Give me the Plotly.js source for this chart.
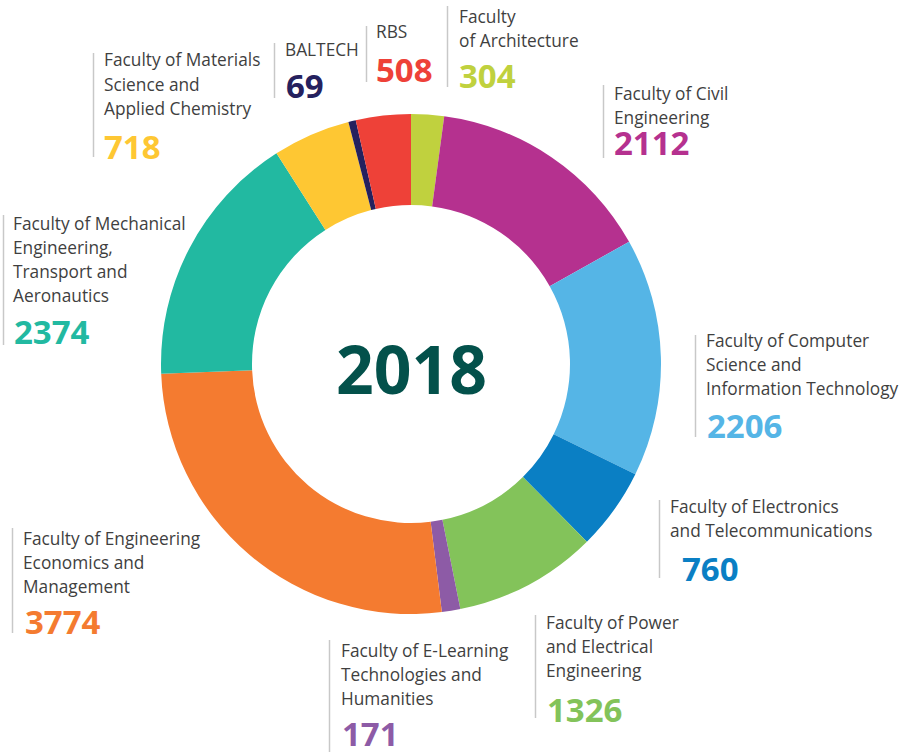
<!DOCTYPE html>
<html><head><meta charset="utf-8">
<script src="https://cdn.plot.ly/plotly-3.0.1.min.js"></script>
<style>html,body{margin:0;padding:0;background:#fff;overflow:hidden}</style>
</head><body><div id="chart" style="width:905px;height:752px"></div>
<script>
// ---- data ----
const year = "2018";
const faculties = [
  "Faculty of Architecture",
  "Faculty of Civil Engineering",
  "Faculty of Computer Science and Information Technology",
  "Faculty of Electronics and Telecommunications",
  "Faculty of Power and Electrical Engineering",
  "Faculty of E-Learning Technologies and Humanities",
  "Faculty of Engineering Economics and Management",
  "Faculty of Mechanical Engineering, Transport and Aeronautics",
  "Faculty of Materials Science and Applied Chemistry",
  "BALTECH",
  "RBS"
];
const students = [304, 2112, 2206, 760, 1326, 171, 3774, 2374, 718, 69, 508];
const sliceColors = ["#c0d13e","#b5318f","#55b5e6","#0a7fc4","#83c35a","#8d5ba6","#f47b30","#22b9a1","#fec733","#25215e","#ee4138"];
const labelLines = [
  ["Faculty", "of Architecture"],
  ["Faculty of Civil", "Engineering"],
  ["Faculty of Computer", "Science and", "Information Technology"],
  ["Faculty of Electronics", "and Telecommunications"],
  ["Faculty of Power", "and Electrical", "Engineering"],
  ["Faculty of E-Learning", "Technologies and", "Humanities"],
  ["Faculty of Engineering", "Economics and", "Management"],
  ["Faculty of Mechanical", "Engineering,", "Transport and", "Aeronautics"],
  ["Faculty of Materials", "Science and", "Applied Chemistry"],
  ["BALTECH"],
  ["RBS"]
];

// ---- layout placement (pixels) ----
const W = 905, H = 752;
const px = x => x / W;
const py = y => 1 - y / H;
const place = [
  {lx:447.5, l0:6,   l1:87,  tx:458, ty:16,    nx:458, ny:75},
  {lx:603.5, l0:85,  l1:158, tx:613, ty:93,    nx:613, ny:142},
  {lx:695.5, l0:335, l1:437, tx:705, ty:340,   nx:706, ny:425},
  {lx:659.5, l0:500, l1:578, tx:669, ty:506,   nx:681, ny:568},
  {lx:535.5, l0:615, l1:718, tx:545, ty:622,   nx:546, ny:709},
  {lx:329.5, l0:640, l1:752, tx:340, ty:650,   nx:341, ny:733},
  {lx:12.5,  l0:528, l1:633, tx:22,  ty:538,   nx:24,  ny:621},
  {lx:3.5,   l0:215, l1:345, tx:12,  ty:223,   nx:13,  ny:331},
  {lx:93.5,  l0:53,  l1:157, tx:103, ty:60,    nx:103, ny:146},
  {lx:274.5, l0:43,  l1:98,  tx:284, ty:50,    nx:285, ny:85.5},
  {lx:366.5, l0:26,  l1:82,  tx:375, ty:32,    nx:375, ny:69.5}
];
const lineStep = 24.3;
const cx = 411, cy = 364, R = 250;

const annotations = [];
const shapes = [];
faculties.forEach((f, i) => {
  const p = place[i];
  labelLines[i].forEach((t, k) => {
    annotations.push({
      xref:'paper', yref:'paper', x:px(p.tx), y:py(p.ty + k*lineStep),
      xanchor:'left', yanchor:'middle', showarrow:false, borderpad:0,
      text:t, font:{family:'"Open Sans", sans-serif', size:17.3, color:'#3f3f3f'}
    });
  });
  annotations.push({
    xref:'paper', yref:'paper', x:px(p.nx), y:py(p.ny),
    xanchor:'left', yanchor:'middle', showarrow:false, borderpad:0,
    text:'<b>' + students[i] + '</b>',
    font:{family:'"Open Sans", sans-serif', size:33, color:sliceColors[i]}
  });
  shapes.push({
    type:'line', xref:'paper', yref:'paper',
    x0:px(p.lx), x1:px(p.lx), y0:py(p.l0), y1:py(p.l1),
    line:{color:'#c8c8c8', width:1.5}
  });
});
annotations.push({
  xref:'paper', yref:'paper', x:px(411.5), y:py(368),
  xanchor:'center', yanchor:'middle', showarrow:false, borderpad:0,
  text:'<b>' + year + '</b>',
  font:{family:'"Open Sans", sans-serif', size:66, color:'#03514b'}
});

const trace = {
  type:'pie',
  labels:faculties,
  values:students,
  marker:{colors:sliceColors, line:{width:0}},
  sort:false,
  direction:'clockwise',
  rotation:0,
  hole:0.636,
  textinfo:'none',
  hoverinfo:'label+value',
  domain:{x:[px(cx - R), px(cx + R)], y:[py(cy + R), py(cy - R)]},
  showlegend:false
};

Plotly.newPlot('chart', [trace], {
  width:W, height:H,
  margin:{l:0, r:0, t:0, b:0},
  paper_bgcolor:'#ffffff',
  plot_bgcolor:'#ffffff',
  showlegend:false,
  annotations:annotations,
  shapes:shapes
}, {displayModeBar:false, staticPlot:true});
</script>
</body></html>
